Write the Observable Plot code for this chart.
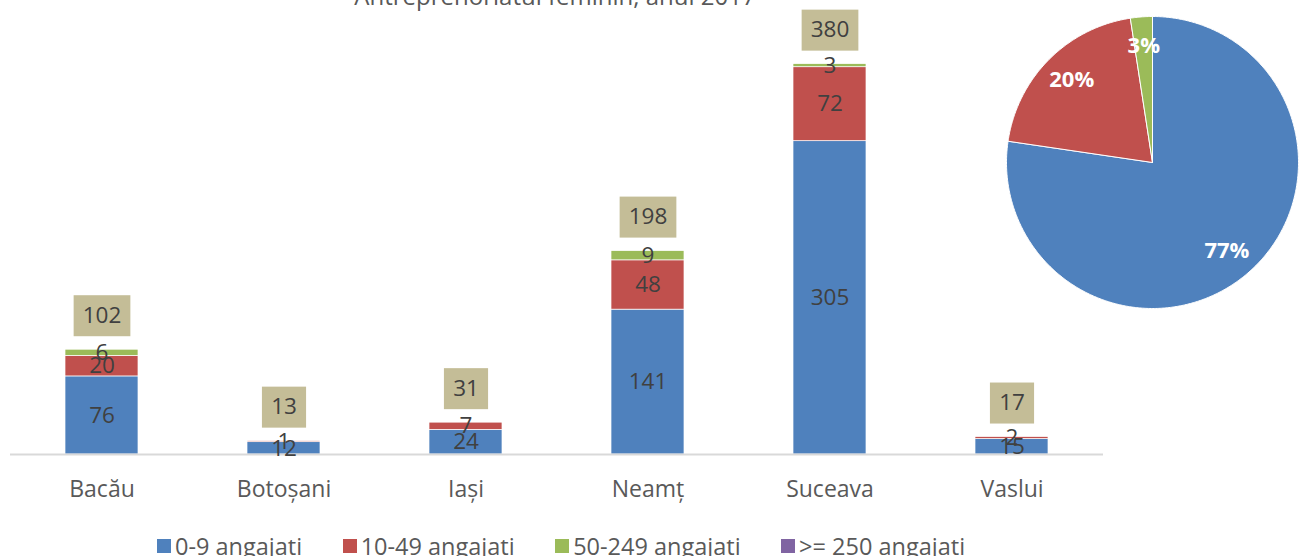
<!DOCTYPE html>
<html><head><meta charset="utf-8">
<script src="https://cdn.jsdelivr.net/npm/d3@7"></script>
<script src="https://cdn.jsdelivr.net/npm/@observablehq/plot@0.6"></script>
<style>
body{margin:0;background:#fff;}
#wrap{position:relative;width:1314px;height:556px;overflow:hidden;font-family:"Open Sans",sans-serif;background:#fff;}
#title{position:absolute;left:0;width:1110px;top:-16px;text-align:center;font-size:24px;line-height:24px;color:#595959;white-space:nowrap;}
#bars{position:absolute;left:0;top:0;}
#pie{position:absolute;left:1002px;top:12px;}
#legend{position:absolute;left:157px;top:531px;display:flex;gap:40.5px;font-size:23.5px;color:#595959;line-height:30px;white-space:nowrap;}
.item{display:flex;align-items:center;}
.sw{width:14px;height:14px;margin-right:4px;}
</style></head><body>
<div id="wrap">
<div id="title">Antreprenoriatul feminin, anul 2017</div>
<div id="bars"></div>
<div id="pie"></div>
<div id="legend"></div>
</div>
<script>
const counties = ["Bacău","Botoșani","Iași","Neamț","Suceava","Vaslui"];
const series = ["0-9 angajați","10-49 angajați","50-249 angajați",">= 250 angajați"];
const colors = ["#4F81BD","#C0504D","#9BBB59","#8064A2"];
const v0_9 = [76,12,24,141,305,15];
const v10_49 = [20,1,7,48,72,2];
const v50_249 = [6,0,0,9,3,0];
const v250 = [0,0,0,0,0,0];
const totals = [102,13,31,198,380,17];
const pieLabels = ["77%","20%","3%",""];

const seriesValues = [v0_9, v10_49, v50_249, v250];
const rows = [];
seriesValues.forEach((vals, s) => vals.forEach((v, i) => rows.push({county: counties[i], series: series[s], value: v})));
const nz = rows.filter(d => d.value > 0);
const totalRows = counties.map((c, i) => ({county: c, total: totals[i]}));

const cvs = document.createElement("canvas").getContext("2d");
cvs.font = "22px 'Open Sans'";

const boxedRender = (index, scales, values, dims, context, next) => {
  const g = next(index, scales, values, dims, context);
  const ns = "http://www.w3.org/2000/svg";
  const texts = Array.from(g.querySelectorAll("text"));
  texts.forEach(t => {
    const w = cvs.measureText(t.textContent).width + 19;
    const r = document.createElementNS(ns, "rect");
    const tr = t.getAttribute("transform");
    let x = 0;
    if (tr) r.setAttribute("transform", tr);
    const ax = t.getAttribute("x");
    if (ax != null && !/em/.test(ax) && isFinite(+ax)) x = +ax;
    r.setAttribute("x", x - w / 2);
    r.setAttribute("y", -20.5);
    r.setAttribute("width", w);
    r.setAttribute("height", 41);
    r.setAttribute("fill", "#C4BD97");
    g.insertBefore(r, g.firstChild);
  });
  return g;
};

const bars = Plot.plot({
  width: 1110, height: 510,
  marginLeft: 10, marginRight: 7, marginTop: 2, marginBottom: 56,
  style: {fontFamily: "'Open Sans', sans-serif", fontSize: "23px", color: "#595959", background: "transparent"},
  x: {domain: counties, paddingInner: 0.6, paddingOuter: 0.3, label: null, tickSize: 0, tickPadding: 26},
  y: {domain: [0, 440], axis: null},
  color: {domain: series, range: colors},
  marks: [
    Plot.barY(nz, {x: "county", y: "value", fill: "series", stroke: "white", strokeWidth: 0.7}),
    Plot.ruleY([0], {stroke: "#D9D9D9", strokeWidth: 2}),
    Plot.text(nz, Plot.stackY({x: "county", y: "value", z: "series", text: d => String(d.value), fill: "#404040", fontSize: 22.5})),
    Plot.text(totalRows, {x: "county", y: "total", text: d => String(d.total), dy: -34, fill: "#404040", fontSize: 22.5, render: boxedRender})
  ]
});
document.getElementById("bars").append(bars);

// pie
const sums = seriesValues.map(v => d3.sum(v));
const arcs = d3.pie().sort(null)(sums);
const pieMarks = [];
const labelRows = [];
arcs.forEach((a, k) => {
  if (a.value <= 0) return;
  const pts = [{x: 0, y: 0}];
  const n = Math.max(2, Math.ceil((a.endAngle - a.startAngle) / 0.01));
  for (let j = 0; j <= n; j++) {
    const t = a.startAngle + (a.endAngle - a.startAngle) * j / n;
    pts.push({x: Math.sin(t), y: Math.cos(t)});
  }
  pts.push({x: 0, y: 0});
  pieMarks.push(Plot.line(pts, {x: "x", y: "y", fill: colors[k], stroke: "white", strokeWidth: 1}));
  const m = (a.startAngle + a.endAngle) / 2;
  labelRows.push({x: 0.78 * Math.sin(m), y: 0.8 * Math.cos(m), label: pieLabels[k]});
});
pieMarks.push(Plot.text(labelRows, {x: "x", y: "y", text: "label", fill: "white", fontWeight: "bold", fontSize: 22}));
const pie = Plot.plot({
  width: 300, height: 300, margin: 4,
  style: {fontFamily: "'Open Sans', sans-serif", background: "transparent"},
  x: {domain: [-1, 1], axis: null},
  y: {domain: [-1, 1], axis: null},
  marks: pieMarks
});
document.getElementById("pie").append(pie);

// legend
const leg = document.getElementById("legend");
series.forEach((s, i) => {
  const it = document.createElement("div");
  it.className = "item";
  it.innerHTML = `<span class="sw" style="background:${colors[i]}"></span><span>${s}</span>`;
  leg.append(it);
});
</script>
</body></html>
